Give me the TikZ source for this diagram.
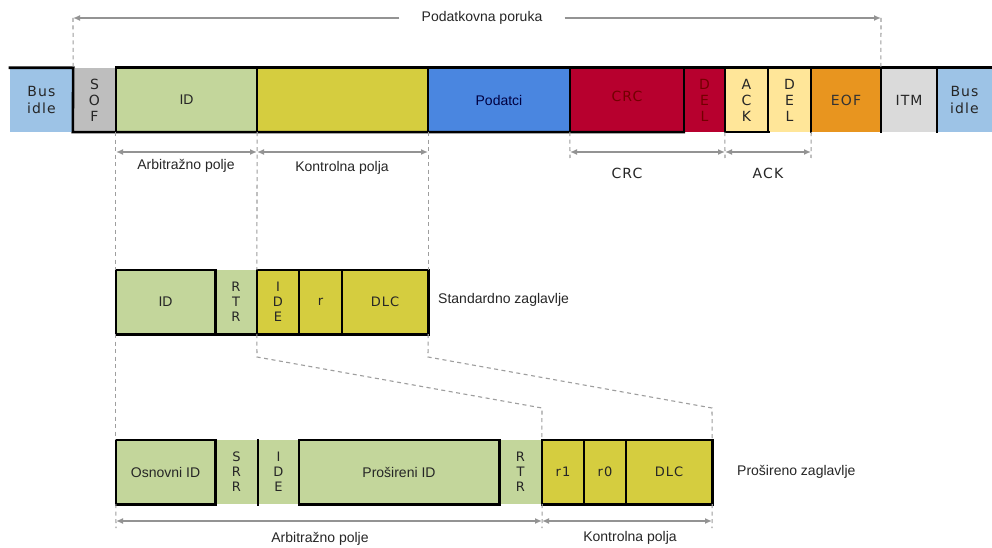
\documentclass[tikz,border=0pt]{standalone}
\usepackage{fontspec}
\setmainfont{Liberation Sans}
\newfontfamily\vfont[LetterSpace=8]{DejaVu Sans}
\newfontfamily\sfont{DejaVu Sans}
\usetikzlibrary{arrows.meta}
\definecolor{busblue}{HTML}{9DC3E6}
\definecolor{sofgray}{HTML}{BEBEBE}
\definecolor{idgreen}{HTML}{C3D69B}
\definecolor{ctlyellow}{HTML}{D5CD3F}
\definecolor{datblue}{HTML}{4A86E0}
\definecolor{crcred}{HTML}{B7002E}
\definecolor{ackyellow}{HTML}{FFE699}
\definecolor{eoforange}{HTML}{E8951F}
\definecolor{itmgray}{HTML}{DADADA}
\definecolor{gline}{HTML}{9E9E9E}
\definecolor{garrowc}{HTML}{939393}
\definecolor{txt}{HTML}{262626}
\begin{document}
\begin{tikzpicture}[x=1pt,y=-1pt,
  seg/.style={inner sep=0pt, minimum height=64pt, draw=none, text=txt},
  sig/.style={line width=2.6pt, black, line cap=rect, line join=miter},
  gdash/.style={draw=gline, line width=1.1pt, dash pattern=on 4pt off 3.5pt},
  garr/.style={draw=garrowc, line width=1.5pt, {Latex[length=7pt,width=6pt]}-{Latex[length=7pt,width=6pt]}},
  garrs/.style={draw=garrowc, line width=1.5pt, -{Latex[length=7pt,width=6pt]}},
  vtxt/.style={font=\vfont\fontsize{14}{17}\selectfont, align=center},
  stk/.style={font=\sfont\fontsize{14}{16}\selectfont, align=center},
  vtxs/.style={font=\vfont\fontsize{13}{15}\selectfont, align=center},
  stks/.style={font=\sfont\fontsize{13}{15}\selectfont, align=center},
  atxt/.style={font=\fontsize{14}{16}\selectfont},
  lbl/.style={text=txt, inner sep=0pt}
]
\useasboundingbox (0,0) rectangle (992,548);
\fill[white] (0,0) rectangle (992,548);

% ---- top row: data frame
\node[seg,fill=busblue,minimum width=63pt,vtxt] (bi1) at (41.5,100) {Bus\\idle};
\node[seg,fill=sofgray,minimum width=43pt,stk] (sof) at (94.5,100) {S\\O\\F};
\node[seg,fill=idgreen,minimum width=141pt,atxt] (id) at (186.5,100) {ID};
\node[seg,fill=ctlyellow,minimum width=171pt] (ctl) at (342.5,100) {};
\node[seg,fill=datblue,minimum width=142pt,atxt,text=blue!25!black] (dat) at (499,100) {Podatci};
\node[seg,fill=crcred,minimum width=114pt,vtxt,text=red!45!black] (crc) at (627,100) {\raisebox{7pt}{CRC}};
\node[seg,fill=crcred,minimum width=41pt,stk,text=red!45!black] (del1) at (704.5,100) {D\\E\\L};
\node[seg,fill=ackyellow,minimum width=43pt,stk] (ack) at (746.5,100) {A\\C\\K};
\node[seg,fill=ackyellow,minimum width=43pt,stk] (del2) at (789.5,100) {D\\E\\L};
\node[seg,fill=eoforange,minimum width=70pt,vtxt,text=black!80] (eof) at (846,100) {EOF};
\node[seg,fill=itmgray,minimum width=56pt,vtxt] (itm) at (909,100) {ITM};
\node[seg,fill=busblue,minimum width=55pt,vtxt] (bi2) at (964.5,100) {Bus\\idle};

\draw[sig] (bi1.north west) -- (bi1.north east) -- (sof.south west) -- (del1.south west);
\draw[sig] (id.north west) -- (bi2.north east);
\draw[sig] (ack.south west) -- (ack.south east);
\foreach \n in {id,ctl,dat,crc,del1,ack,del2,eof,itm,bi2}
  \draw[sig] (\n.north west) -- (\n.south west);

% ---- "Podatkovna poruka"
\node[atxt,lbl,inner xsep=22pt] (pp) at (482,18) {Podatkovna poruka};
\coordinate (ppL) at (73,18);
\coordinate (ppR) at (881,18);
\draw[garrs] (pp.west) -- (ppL);
\draw[garrs] (pp.east) -- (ppR);
\draw[gdash] (ppL) -- (bi1.north east);
\draw[gdash] (ppR) -- (itm.north west);

% ---- standard header row
\node[seg,fill=idgreen,minimum width=99pt,atxt] (sid) at (165.5,302) {ID};
\node[seg,fill=idgreen,minimum width=42pt,stks] (srtr) at (236,302) {R\\T\\R};
\node[seg,fill=ctlyellow,minimum width=42pt,stks] (side) at (278,302) {I\\D\\E};
\node[seg,fill=ctlyellow,minimum width=43pt,vtxs] (sr) at (320.5,302) {r};
\node[seg,fill=ctlyellow,minimum width=86pt,vtxs] (sdlc) at (385,302) {DLC};
\node[atxt,lbl,anchor=west] (stdl) at (438,300) {Standardno zaglavlje};

\draw[sig] (sid.north west) rectangle (sid.south east);
\draw[sig] (srtr.south west) -- (srtr.south east);
\draw[sig] (side.north west) rectangle (sdlc.south east);
\draw[sig] (sr.north west) -- (sr.south west);
\draw[sig] (sdlc.north west) -- (sdlc.south west);

% ---- extended header row
\node[seg,fill=idgreen,minimum width=99pt,atxt] (eid) at (165.5,472) {Osnovni ID};
\node[seg,fill=idgreen,minimum width=43pt,stks] (esrr) at (236.5,472) {S\\R\\R};
\node[seg,fill=idgreen,minimum width=41pt,stks] (eide) at (278.5,472) {I\\D\\E};
\node[seg,fill=idgreen,minimum width=200pt,atxt] (epid) at (399,472) {Prošireni ID};
\node[seg,fill=idgreen,minimum width=43pt,stks] (ertr) at (520.5,472) {R\\T\\R};
\node[seg,fill=ctlyellow,minimum width=42pt,vtxs] (er1) at (563,472) {r1};
\node[seg,fill=ctlyellow,minimum width=42pt,vtxs] (er0) at (605,472) {r0};
\node[seg,fill=ctlyellow,minimum width=86pt,vtxs] (edlc) at (669,472) {DLC};
\node[atxt,lbl,anchor=west] (extl) at (737,472) {Prošireno zaglavlje};

\draw[sig] (eid.north west) rectangle (eid.south east);
\draw[sig] (eide.north west) -- (eide.south west);
\draw[sig] (epid.north west) rectangle (epid.south east);
\draw[sig] (er1.north west) rectangle (edlc.south east);
\draw[sig] (er0.north west) -- (er0.south west);
\draw[sig] (edlc.north west) -- (edlc.south west);

% ---- dashed guides top -> standard
\draw[gdash] (id.south west) -- (sid.north west);
\draw[gdash] (id.south east) -- (side.north west);
\draw[gdash] (ctl.south east) -- (sdlc.north east);
\coordinate (t1) at (116,152);
\coordinate (t2) at (257,152);
\coordinate (t3) at (428,152);
\draw[garr] (t1) -- (t2);
\draw[garr] (t2) -- (t3);
\node[atxt,lbl] (la1) at (186,166) {Arbitražno polje};
\node[atxt,lbl] (lk1) at (342,168) {Kontrolna polja};

% ---- CRC / ACK
\coordinate (c1) at (570,158);
\coordinate (c2) at (725,158);
\coordinate (c3) at (811,158);
\draw[gdash] (crc.south west) -- (c1);
\draw[gdash] (ack.south west) -- (c2);
\draw[gdash] (del2.south east) -- (c3);
\coordinate (u1) at (570,152);
\coordinate (u2) at (725,152);
\coordinate (u3) at (811,152);
\draw[garr] (u1) -- (u2);
\draw[garr] (u2) -- (u3);
\node[vtxt,lbl] (lcrc) at (627,173) {CRC};
\node[vtxt,lbl] (lack) at (768,173) {ACK};

% ---- standard -> extended
\coordinate (k1) at (257,357);
\coordinate (k2) at (542,408);
\coordinate (k3) at (428,357);
\coordinate (k4) at (712,408);
\draw[gdash] (sid.south west) -- (eid.north west);
\draw[gdash] (side.south west) -- (k1) -- (k2) -- (er1.north west);
\draw[gdash] (sdlc.south east) -- (k3) -- (k4) -- (edlc.north east);

% ---- bottom arrows
\coordinate (b1) at (116,528);
\coordinate (b2) at (542,528);
\coordinate (b3) at (712,528);
\draw[gdash] (eid.south west) -- (b1);
\draw[gdash] (ertr.south east) -- (b2);
\draw[gdash] (edlc.south east) -- (b3);
\coordinate (w1) at (116,521);
\coordinate (w2) at (542,521);
\coordinate (w3) at (712,521);
\draw[garr] (w1) -- (w2);
\draw[garr] (w2) -- (w3);
\node[atxt,lbl] (la2) at (320,539) {Arbitražno polje};
\node[atxt,lbl] (lk2) at (630,538) {Kontrolna polja};
\end{tikzpicture}
\end{document}
